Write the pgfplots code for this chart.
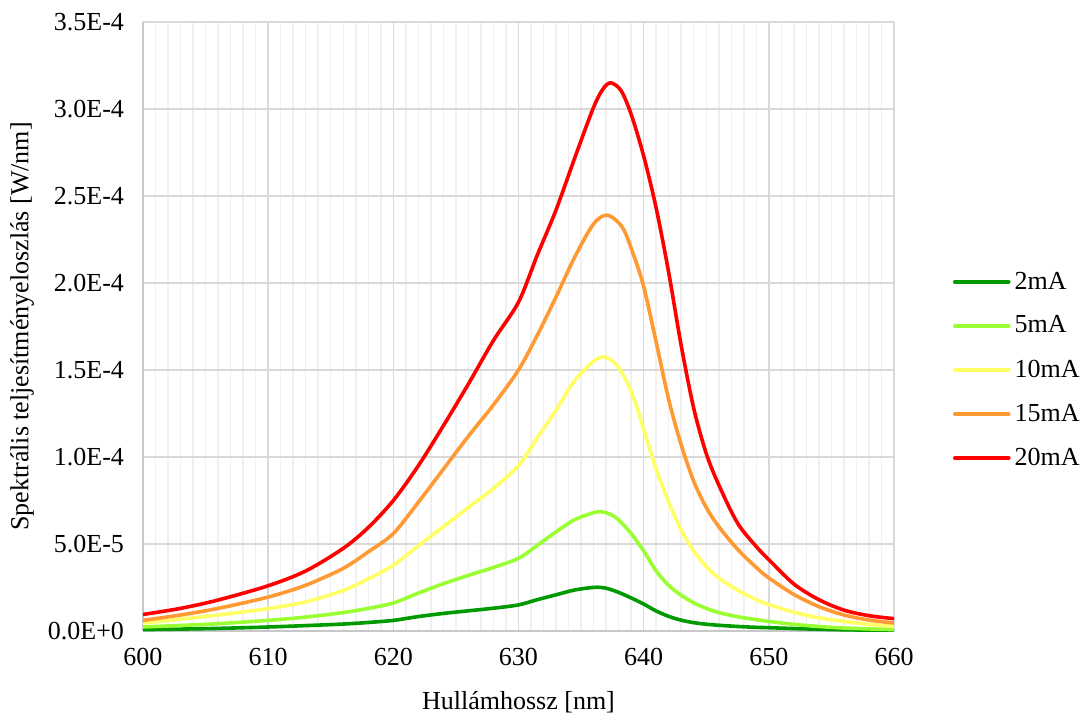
\documentclass[border=0pt]{standalone}
\usepackage{fontspec}
\setmainfont{Liberation Serif}
\usepackage{pgfplots}
\pgfplotsset{compat=1.18}
\usepackage{pgfplotstable}

\definecolor{cTwo}{HTML}{009900}
\definecolor{cFive}{HTML}{99FF33}
\definecolor{cTen}{HTML}{FFFF66}
\definecolor{cFifteen}{HTML}{FF9933}
\definecolor{cTwenty}{HTML}{FF0000}
\definecolor{gridmaj}{HTML}{D9D9D9}
\definecolor{gridmin}{HTML}{F0F0F0}
\definecolor{axisgray}{HTML}{C8C8C8}

% spectra, y in W/nm
\pgfplotstableread{
x y
600 0.08e-5
603 0.11e-5
606 0.15e-5
610 0.23e-5
613 0.31e-5
616 0.40e-5
618 0.49e-5
620 0.61e-5
622 0.83e-5
624 1.01e-5
626 1.16e-5
628 1.31e-5
630 1.50e-5
631.5 1.80e-5
633 2.08e-5
634.5 2.36e-5
636.1 2.51e-5
637 2.46e-5
638 2.22e-5
639 1.90e-5
640 1.55e-5
641 1.15e-5
642 0.84e-5
643 0.62e-5
644 0.48e-5
645 0.39e-5
646 0.33e-5
647.5 0.26e-5
649 0.21e-5
650 0.19e-5
652 0.14e-5
654 0.10e-5
656 0.07e-5
658 0.05e-5
660 0.04e-5
}\tTwo

\pgfplotstableread{
x y
600 0.23e-5
603 0.32e-5
606 0.42e-5
610 0.61e-5
613 0.80e-5
616 1.06e-5
618 1.30e-5
620 1.61e-5
622 2.18e-5
624 2.72e-5
626 3.20e-5
628 3.65e-5
630 4.18e-5
631.5 4.92e-5
633 5.70e-5
634.5 6.40e-5
636.3 6.85e-5
637.3 6.72e-5
638 6.38e-5
639 5.60e-5
640 4.60e-5
641 3.45e-5
642 2.62e-5
643 2.05e-5
644 1.62e-5
645 1.30e-5
646 1.06e-5
647.5 0.82e-5
649 0.65e-5
650 0.55e-5
652 0.38e-5
654 0.26e-5
656 0.17e-5
658 0.12e-5
660 0.08e-5
}\tFive

\pgfplotstableread{
x y
600 0.46e-5
603 0.68e-5
606 0.92e-5
610 1.29e-5
613 1.67e-5
616 2.33e-5
618 3.00e-5
620 3.78e-5
622 4.90e-5
624 6.00e-5
626 7.10e-5
628 8.20e-5
630 9.50e-5
631.5 11.1e-5
633 12.7e-5
634.5 14.4e-5
636 15.5e-5
636.8 15.75e-5
637.7 15.4e-5
638.6 14.4e-5
639.3 13.2e-5
640 11.6e-5
641 9.3e-5
642 7.4e-5
643 5.8e-5
644 4.6e-5
645 3.7e-5
646 3.05e-5
647.5 2.35e-5
649 1.80e-5
650 1.52e-5
652 1.08e-5
654 0.76e-5
656 0.55e-5
658 0.38e-5
660 0.27e-5
}\tTen

\pgfplotstableread{
x y
600 0.61e-5
603 0.92e-5
606 1.30e-5
610 1.95e-5
613 2.63e-5
616 3.60e-5
618 4.55e-5
620 5.60e-5
622 7.40e-5
624 9.30e-5
626 11.2e-5
628 13.0e-5
630 15.0e-5
631.5 17.0e-5
633 19.2e-5
634.5 21.5e-5
636 23.4e-5
637.1 23.9e-5
638.3 23.2e-5
639.2 21.6e-5
640 19.8e-5
641 16.6e-5
642 13.3e-5
643 10.7e-5
644 8.6e-5
645 7.1e-5
646 6.0e-5
647.5 4.7e-5
649 3.65e-5
650 3.05e-5
652 2.1e-5
654 1.4e-5
656 0.92e-5
658 0.63e-5
660 0.46e-5
}\tFifteen

\pgfplotstableread{
x y
600 0.95e-5
603 1.30e-5
606 1.78e-5
610 2.60e-5
613 3.45e-5
616 4.75e-5
618 5.95e-5
620 7.50e-5
622 9.50e-5
624 11.8e-5
626 14.2e-5
628 16.7e-5
630 18.9e-5
631.5 21.6e-5
633 24.2e-5
634.5 27.2e-5
636 30.1e-5
636.8 31.2e-5
637.4 31.5e-5
638.2 31.05e-5
639 29.7e-5
640 27.3e-5
641 24.3e-5
642 20.6e-5
643 16.4e-5
644 12.8e-5
645 10.2e-5
646 8.4e-5
647.5 6.2e-5
649 4.85e-5
650 4.1e-5
652 2.7e-5
654 1.8e-5
656 1.2e-5
658 0.88e-5
660 0.71e-5
}\tTwenty

\begin{document}
\begin{tikzpicture}[font=\fontsize{13}{15.6}\selectfont]
\useasboundingbox (-71.5pt,-43pt) rectangle (468.5pt,315.5pt);
\begin{axis}[
  at={(0,0)}, anchor=south west,
  scale only axis, width=375.5pt, height=304.5pt,
  xmin=600, xmax=660, ymin=0, ymax=3.5e-4,
  xtick={600,610,...,660}, minor x tick num=9,
  ytick={0,5e-5,1e-4,1.5e-4,2e-4,2.5e-4,3e-4,3.5e-4},
  yticklabels={0.0E+0,5.0E-5,1.0E-4,1.5E-4,2.0E-4,2.5E-4,3.0E-4,3.5E-4},
  scaled y ticks=false,
  /pgf/number format/assume math mode=true,
  tick label style={font=\fontsize{13}{15.6}\selectfont},
  yticklabel style={xshift=-6pt},
  xticklabel style={yshift=-5pt},
  major tick length=0pt, minor tick length=0pt,
  grid=both,
  major grid style={draw=gridmaj, line width=0.75pt},
  minor grid style={draw=gridmin, line width=0.75pt},
  axis lines=left,
  axis line style={-, draw=axisgray, line width=0.9pt},
  xlabel={Hullámhossz [nm]},
  ylabel={Spektrális teljesítményeloszlás [W/nm]},
  xlabel style={at={(axis description cs:0.5,-0.1166)}, anchor=center},
  ylabel style={at={(axis description cs:-0.1610,0.5)}, anchor=center},
  label style={font=\fontsize{13}{15.6}\selectfont},
  legend style={at={(1.07,0.4286)}, anchor=west, draw=none, fill=none,
    font=\fontsize{13}{15.6}\selectfont, row sep=7.9pt},
  legend cell align=left,
  legend image code/.code={\draw[#1, line cap=round] (0pt,0pt) -- (27pt,0pt);},
  every axis plot/.append style={line width=1.8pt, smooth, no marks},
]
\addplot[cTwo] table {\tTwo};
\addplot[cFive] table {\tFive};
\addplot[cTen] table {\tTen};
\addplot[cFifteen] table {\tFifteen};
\addplot[cTwenty] table {\tTwenty};
\legend{2mA,5mA,10mA,15mA,20mA}
\end{axis}
\end{tikzpicture}
\end{document}
